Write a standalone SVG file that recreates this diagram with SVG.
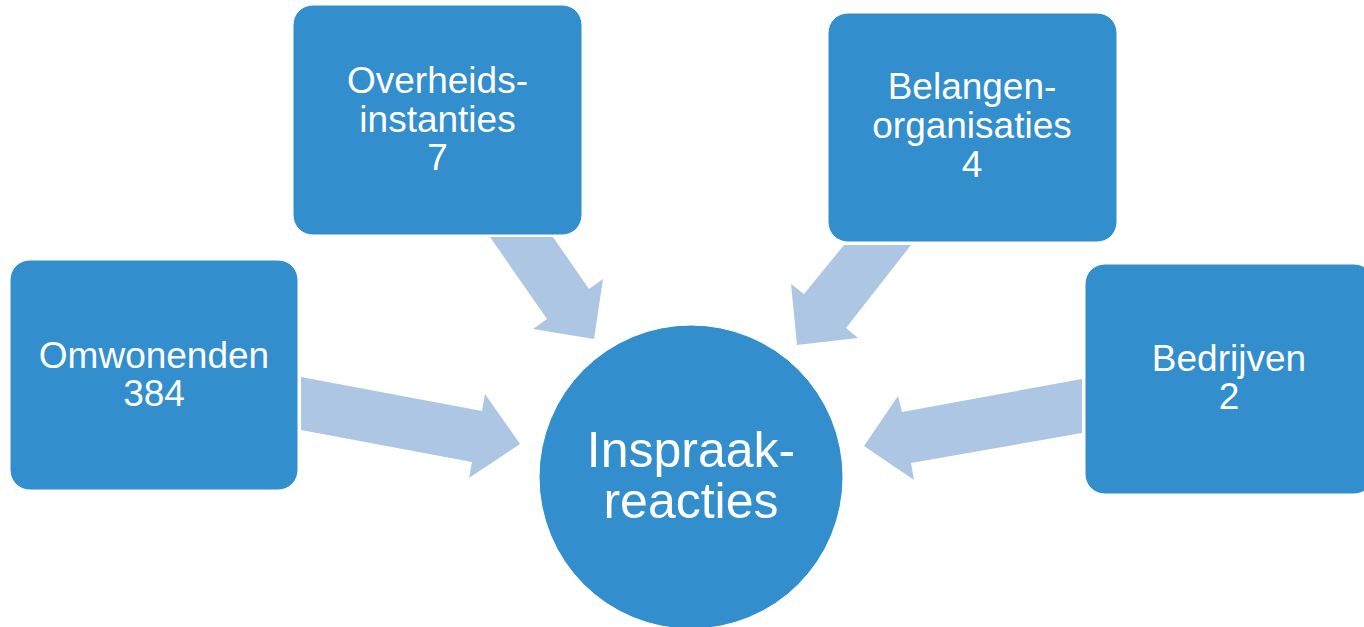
<svg xmlns="http://www.w3.org/2000/svg" width="1364" height="627" viewBox="0 0 1364 627">
<style>
.box{fill:#328ECC;stroke:#ffffff;stroke-width:1}
.arrow{fill:#ADC6E4}
.t{font-family:"Liberation Sans",Arial,sans-serif;font-size:37px;fill:#ffffff;text-anchor:middle}
.tc{font-family:"Liberation Sans",Arial,sans-serif;font-size:50px;fill:#ffffff;text-anchor:middle}
</style>
<rect width="1364" height="627" fill="#ffffff"/>
<g id="connectors">
<polygon class="arrow" points="301,377 482,411 485,394 520,444 469,478 472,462 301,430"/>
<polygon class="arrow" points="490,237 553,237 589,289 603,279 594,339 533,329 547,319"/>
<polygon class="arrow" points="844,245 911,245 846,328 858,338 797,345 791,284 804,294"/>
<polygon class="arrow" points="1082,379 902,412 898,396 864,446 914,480 911,463 1082,433"/>
</g>
<g id="center">
<circle class="box" cx="691" cy="477" r="152"/>
<text class="tc" x="691" y="467">Inspraak-</text>
<text class="tc" x="691" y="518">reacties</text>
</g>
<g id="omwonenden">
<rect class="box" x="10" y="260" width="288" height="230" rx="20"/>
<text class="t" x="154" y="368">Omwonenden</text>
<text class="t" x="154" y="406">384</text>
</g>
<g id="overheidsinstanties">
<rect class="box" x="293" y="5" width="289" height="230" rx="20"/>
<text class="t" x="437.5" y="93">Overheids-</text>
<text class="t" x="437.5" y="132">instanties</text>
<text class="t" x="437.5" y="170">7</text>
</g>
<g id="belangenorganisaties">
<rect class="box" x="828" y="13" width="289" height="229" rx="20"/>
<text class="t" x="972" y="99">Belangen-</text>
<text class="t" x="972" y="138">organisaties</text>
<text class="t" x="972" y="177">4</text>
</g>
<g id="bedrijven">
<rect class="box" x="1085" y="264" width="289" height="230" rx="20"/>
<text class="t" x="1229" y="371">Bedrijven</text>
<text class="t" x="1229" y="409">2</text>
</g>
</svg>
